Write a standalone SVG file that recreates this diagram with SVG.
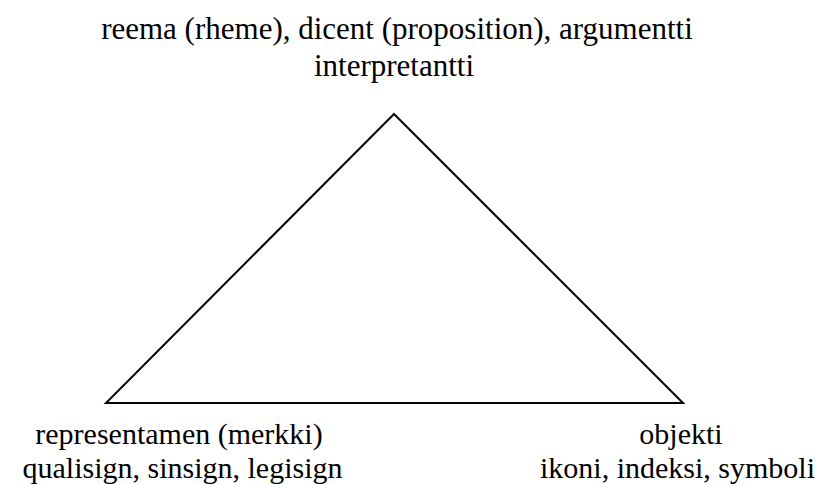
<svg xmlns="http://www.w3.org/2000/svg" width="829" height="484" viewBox="0 0 829 484">
<style>
text{font-family:"Liberation Serif","Times New Roman",serif;font-size:31px;fill:#000;text-anchor:middle}
.b{font-size:30px}
.edge{stroke:#000;stroke-width:2;fill:none}
</style>
<rect width="829" height="484" fill="#fff"/>
<g id="connectors">
<path class="edge" d="M394,114 L106,403 L683,403 Z" stroke-linejoin="miter"/>
</g>
<g id="interpretantti">
<text x="397" y="39">reema (rheme), dicent (proposition), argumentti</text>
<text x="394" y="76">interpretantti</text>
</g>
<g id="representamen">
<text class="b" x="179" y="444">representamen (merkki)</text>
<text class="b" x="182.5" y="478">qualisign, sinsign, legisign</text>
</g>
<g id="objekti">
<text class="b" x="681" y="444">objekti</text>
<text class="b" x="677.5" y="478">ikoni, indeksi, symboli</text>
</g>
</svg>
